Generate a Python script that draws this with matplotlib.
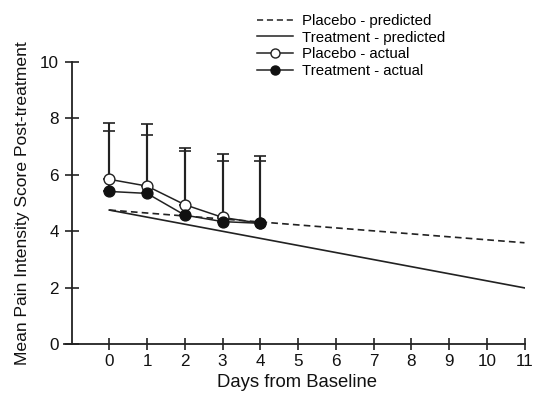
import numpy as np
import matplotlib.pyplot as plt
from matplotlib.lines import Line2D

plt.rcParams['font.family'] = ['Liberation Sans', 'DejaVu Sans']

days = [0, 1, 2, 3, 4]
placebo_mean = [5.84, 5.6, 4.94, 4.49, 4.28]
placebo_upper = [7.85, 7.8, 6.94, 6.75, 6.67]
treat_mean = [5.41, 5.34, 4.57, 4.34, 4.28]
treat_upper = [7.55, 7.42, 6.86, 6.49, 6.49]

pred_days = [0, 11]
placebo_pred = [4.75, 3.59]
treat_pred = [4.75, 1.99]

fig = plt.figure(figsize=(5.34, 3.95), dpi=100)
ax = fig.add_axes([64/534, 51/395, 460.5/534, 282/395])

ax.plot(pred_days, placebo_pred, color='#222222', lw=1.2, ls=(0, (4, 2.5)))
ax.plot(pred_days, treat_pred, color='#222222', lw=1.2)

# upper-only error bars
p_err = np.array(placebo_upper) - np.array(placebo_mean)
t_err = np.array(treat_upper) - np.array(treat_mean)
ax.errorbar(days, placebo_mean, yerr=[np.zeros(5), p_err], fmt='none',
            ecolor='#222222', elinewidth=1.5, capsize=4, capthick=1.2)
ax.errorbar(days, treat_mean, yerr=[np.zeros(5), t_err], fmt='none',
            ecolor='#222222', elinewidth=1.5, capsize=4, capthick=1.2)

ax.plot(days, placebo_mean, color='#222222', lw=1.1, marker='o', ms=7.8,
        mfc='white', mec='#222222', mew=1.0)
ax.plot(days, treat_mean, color='#222222', lw=1.1, marker='o', ms=7.8,
        mfc='#111111', mec='#111111')

ax.set_xlim(-1.2, 11)
ax.set_ylim(0, 10)
ax.spines['left'].set_position(('data', -1.0))
ax.spines['right'].set_visible(False)
ax.spines['top'].set_visible(False)
ax.spines['left'].set_color('#222222')
ax.spines['bottom'].set_color('#222222')
ax.spines['left'].set_linewidth(1.3)
ax.spines['bottom'].set_linewidth(1.3)
ax.set_xticks(range(0, 12))
ax.set_yticks(range(0, 11, 2))
ax.tick_params(axis='x', direction='inout', length=9, width=1.2, labelsize=12.3,
               colors='#222222', pad=3)
ax.tick_params(axis='y', direction='inout', length=10, width=1.2, labelsize=12.3,
               colors='#222222', pad=4)
for t in ax.get_xticklabels() + ax.get_yticklabels():
    t.set_color('#111111')

ax.set_xlabel('Days from Baseline', fontsize=13.3, color='#111111')
ax.xaxis.set_label_coords(0.506, -0.106)
ax.set_ylabel('Mean Pain Intensity Score Post-treatment', fontsize=12.6,
              color='#111111')
ax.yaxis.set_label_coords(-0.074, 0.5)

handles = [
    Line2D([], [], color='#222222', lw=1.1, ls=(0, (4, 2.5))),
    Line2D([], [], color='#222222', lw=1.1),
    Line2D([], [], color='#222222', lw=1.1, marker='o', ms=6.5, mfc='white', mec='#222222'),
    Line2D([], [], color='#222222', lw=1.1, marker='o', ms=6.5, mfc='#111111', mec='#111111'),
]
labels = ['Placebo - predicted', 'Treatment - predicted', 'Placebo - actual', 'Treatment - actual']
fig.legend(handles, labels, loc='upper left', bbox_to_anchor=(251/534, 1 - 8/395),
           frameon=False, fontsize=10.8, handlelength=2.4, handletextpad=0.6,
           labelspacing=0.18, borderaxespad=0)

fig.savefig('out.png', dpi=100)
